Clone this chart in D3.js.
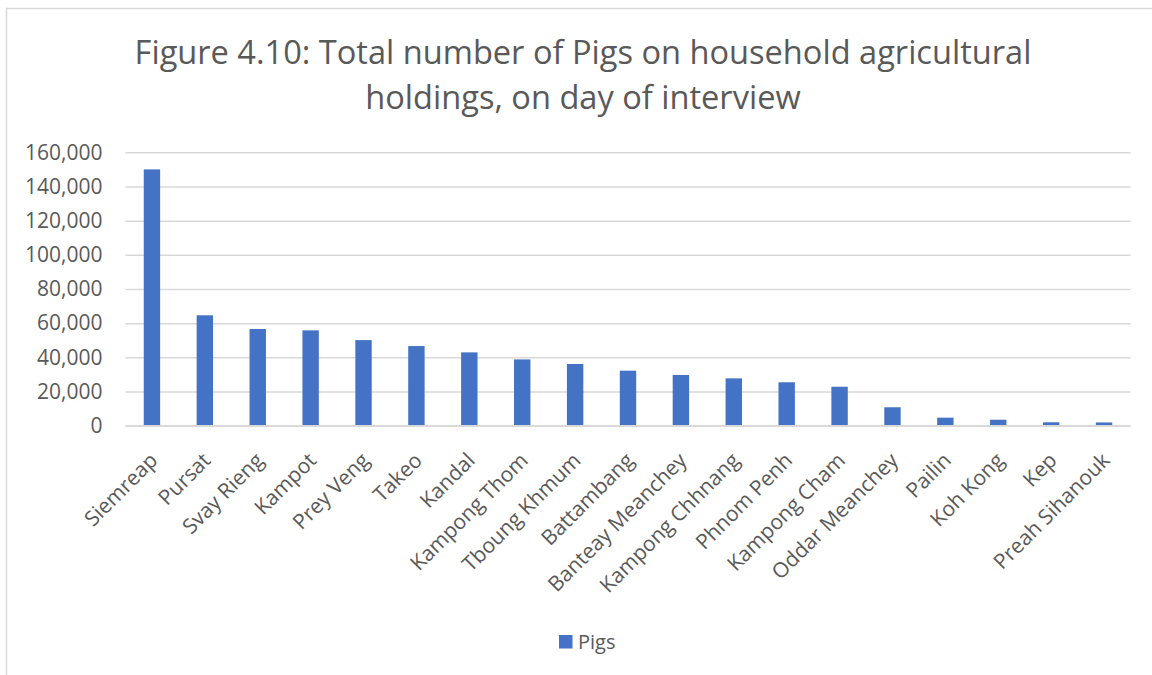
<!DOCTYPE html>
<html>
<head>
<meta charset="utf-8">
<script src="https://cdn.jsdelivr.net/npm/d3@7"></script>
<style>
  html, body { margin: 0; padding: 0; background: #fff; }
  svg { display: block; font-family: "Open Sans", sans-serif; }
</style>
</head>
<body>
<svg id="chart" width="1152" height="675"></svg>
<script>
const categories = ["Siemreap","Pursat","Svay Rieng","Kampot","Prey Veng","Takeo","Kandal","Kampong Thom","Tboung Khmum","Battambang","Banteay Meanchey","Kampong Chhnang","Phnom Penh","Kampong Cham","Oddar Meanchey","Pailin","Koh Kong","Kep","Preah Sihanouk"];
const pigs = [150000,64600,56600,55800,50100,46600,42900,38800,36100,32200,29700,27700,25400,22800,10800,4700,3500,2000,1900];
const yTicks = [0,20000,40000,60000,80000,100000,120000,140000,160000];
const seriesName = "Pigs";
const titleLines = ["Figure 4.10: Total number of Pigs on household agricultural", "holdings, on day of interview"];

const svg = d3.select("#chart");
const W = 1152, H = 675;
const margin = {left: 125.5, right: 1130.5, top: 152.3, bottom: 425.7};
const textColor = "#595959", gridColor = "#d9d9d9", barColor = "#4472C4";

// chart frame
svg.append("rect").attr("x", 6.5).attr("y", 8.5).attr("width", W + 10).attr("height", H + 10)
  .attr("fill", "#fff").attr("stroke", gridColor).attr("stroke-width", 1.5);

// title
const title = svg.append("g").attr("fill", textColor).attr("font-size", 32.6).attr("text-anchor", "middle");
titleLines.forEach((t, i) => {
  title.append("text").attr("x", 583).attr("y", 63.5 + i * 45).text(t);
});

const x = d3.scaleBand().domain(categories).range([margin.left, margin.right]).paddingInner(0.69).paddingOuter(0.345);
const y = d3.scaleLinear().domain([0, 160000]).range([margin.bottom, margin.top]);

// gridlines via axis
const yAxis = d3.axisLeft(y).tickValues(yTicks).tickSize(-(margin.right - margin.left)).tickPadding(23)
  .tickFormat(d3.format(","));
const gy = svg.append("g").attr("transform", `translate(${margin.left},0)`).call(yAxis);
gy.select(".domain").remove();
gy.selectAll(".tick line").attr("stroke", gridColor).attr("stroke-width", 1.5);
gy.selectAll(".tick text").attr("fill", textColor).attr("font-size", 21).attr("font-family", "Open Sans, sans-serif");

// bars
svg.append("g").selectAll("rect").data(categories).join("rect")
  .attr("x", d => x(d))
  .attr("width", x.bandwidth())
  .attr("y", (d, i) => y(pigs[i]))
  .attr("height", (d, i) => y(0) - y(pigs[i]))
  .attr("fill", barColor);

// baseline
svg.append("line").attr("x1", margin.left).attr("x2", margin.right)
  .attr("y1", y(0)).attr("y2", y(0)).attr("stroke", gridColor).attr("stroke-width", 1.5);

// category labels
const xAxis = d3.axisBottom(x).tickSize(0).tickPadding(0);
const gx = svg.append("g").attr("transform", `translate(0,${margin.bottom})`).call(xAxis);
gx.select(".domain").remove();
gx.selectAll(".tick text")
  .attr("fill", textColor).attr("font-size", 21).attr("font-family", "Open Sans, sans-serif")
  .attr("text-anchor", "end")
  .attr("dy", null)
  .attr("transform", "translate(7,36) rotate(-45)")
  .attr("y", 0).attr("x", 0);

// legend
const lg = svg.append("g");
lg.append("rect").attr("x", 559).attr("y", 635).attr("width", 13.5).attr("height", 13.5).attr("fill", barColor);
lg.append("text").attr("x", 578).attr("y", 649).attr("fill", textColor).attr("font-size", 20).text(seriesName);
</script>
</body>
</html>
